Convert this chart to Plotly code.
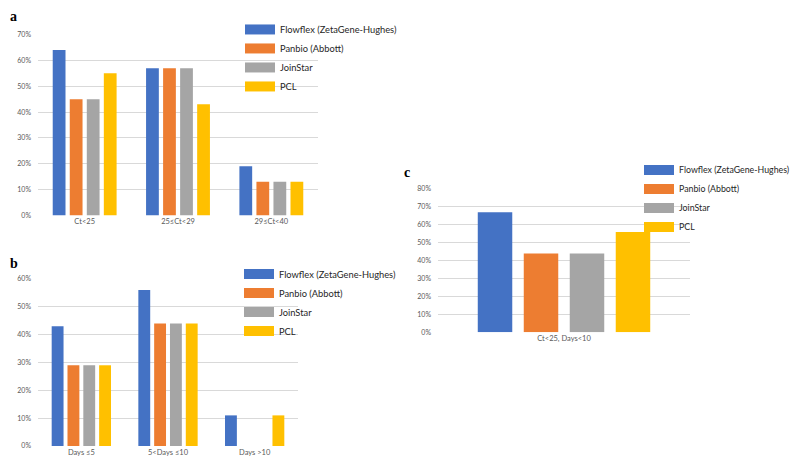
import plotly.graph_objects as go

series = ["Flowflex (ZetaGene-Hughes)", "Panbio (Abbott)", "JoinStar", "PCL"]
colors = ["#4472C4", "#ED7D31", "#A5A5A5", "#FFC000"]

cats_a = ["Ct<25", "25≤Ct<29", "29≤Ct<40"]
flowflex_a = [0.64, 0.57, 0.19]
panbio_a = [0.45, 0.57, 0.13]
joinstar_a = [0.45, 0.57, 0.13]
pcl_a = [0.55, 0.43, 0.13]

cats_b = ["Days ≤5", "5<Days ≤10", "Days >10"]
flowflex_b = [0.43, 0.56, 0.11]
panbio_b = [0.29, 0.44, 0.0]
joinstar_b = [0.29, 0.44, 0.0]
pcl_b = [0.29, 0.44, 0.11]

cats_c = ["Ct<25, Days<10"]
flowflex_c = [0.67]
panbio_c = [0.44]
joinstar_c = [0.44]
pcl_c = [0.56]

ticks_a = [0, 0.1, 0.2, 0.3, 0.4, 0.5, 0.6, 0.7]
ticks_b = [0, 0.1, 0.2, 0.3, 0.4, 0.5, 0.6]
ticks_c = [0, 0.1, 0.2, 0.3, 0.4, 0.5, 0.6, 0.7, 0.8]

panels = [
    (cats_a, [flowflex_a, panbio_a, joinstar_a, pcl_a], "x", "y", "legend"),
    (cats_b, [flowflex_b, panbio_b, joinstar_b, pcl_b], "x2", "y2", "legend2"),
    (cats_c, [flowflex_c, panbio_c, joinstar_c, pcl_c], "x3", "y3", "legend3"),
]

fig = go.Figure()
for cats, vals, xa, ya, lg in panels:
    for name, col, v in zip(series, colors, vals):
        fig.add_trace(go.Bar(x=cats, y=v, name=name, marker=dict(color=col, line=dict(width=0)),
                             xaxis=xa, yaxis=ya, showlegend=False))
    # legend entries with wide rectangular swatches
    for name, col in zip(series, colors):
        fig.add_trace(go.Scatter(x=[cats[0]], y=[None], mode="lines", name=name,
                                 line=dict(color=col, width=10), xaxis=xa, yaxis=ya,
                                 legend=lg, hoverinfo="skip"))

W, H = 800, 458
def px(x): return x / W
def py(y): return 1 - y / H

tickfont = dict(family="Lato, Open Sans, sans-serif", size=7, color="#595959")
xfont = dict(family="Lato, Open Sans, sans-serif", size=7.5, color="#595959")
grid = "#D9D9D9"

def yax(dom, rng, ticks):
    return dict(domain=dom, range=rng, tickvals=ticks, tickformat=".0%", showgrid=True,
                gridcolor=grid, gridwidth=1, zeroline=False, showline=False, ticks="",
                tickfont=tickfont, ticklabelstandoff=6, fixedrange=True)

def xax(dom, anchor):
    return dict(domain=dom, anchor=anchor, showgrid=False, zeroline=False, showline=False,
                ticks="", tickfont=xfont, fixedrange=True)

def leg(x, y, size=9.3):
    return dict(x=x, y=y, xanchor="left", yanchor="top",
                font=dict(family="Lato, Open Sans, sans-serif", size=size, color="#262626"),
                bgcolor="rgba(255,255,255,0)", borderwidth=0,
                itemclick=False, itemdoubleclick=False)

fig.update_layout(
    width=W, height=H, margin=dict(l=0, r=0, t=0, b=0),
    plot_bgcolor="white", paper_bgcolor="white",
    barmode="group", bargap=0.27, bargroupgap=0.25,
    showlegend=True,
    xaxis=xax([px(30), px(310)], "y"),
    yaxis=dict(yax([py(206), py(22)], [0, 0.7], ticks_a), anchor="x"),
    xaxis2=xax([px(30), px(290)], "y2"),
    yaxis2=dict(yax([py(440.7), py(270.7)], [0, 0.6], ticks_b), anchor="x2"),
    xaxis3=xax([px(430), px(682)], "y3"),
    yaxis3=dict(yax([py(325), py(179)], [0, 0.8], ticks_c), anchor="x3"),
    legend=leg(px(232), py(2)),
    legend2=leg(px(231), py(251)),
    legend3=leg(px(631), py(145), 8.8),
)

letterfont = dict(family="Liberation Serif, serif", size=14, color="black")
for t, x, y in [("<b>a</b>", 0, 4), ("<b>b</b>", 0, 255), ("<b>c</b>", 394, 162)]:
    fig.add_annotation(text=t, x=px(x), y=py(y), xref="paper", yref="paper",
                       xanchor="left", yanchor="middle", showarrow=False, font=letterfont)

fig.write_html("out.html")
